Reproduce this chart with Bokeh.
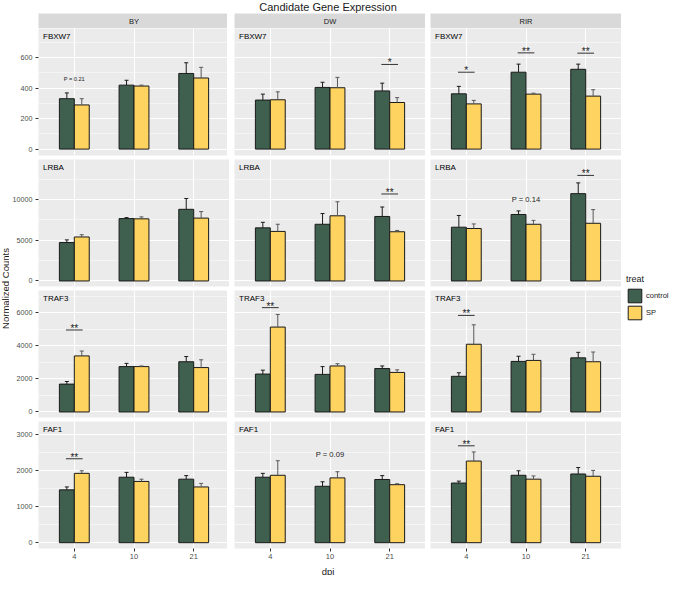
from math import pi
from bokeh.plotting import figure
from bokeh.layouts import row, column
from bokeh.models import ColumnDataSource, Range1d, FixedTicker, Legend, LegendItem
from bokeh.transform import dodge
from bokeh.core.properties import value
from bokeh.embed import file_html
from bokeh.resources import INLINE

# ---------------- data ----------------
dpi = ["4", "10", "21"]
groups = ["BY", "DW", "RIR"]
genes = ["FBXW7", "LRBA", "TRAF3", "FAF1"]
treat = ["control", "SP"]

# order of every series: BY(4,10,21), DW(4,10,21), RIR(4,10,21)
FBXW7_control = [331, 420, 497, 322, 405, 382, 363, 505, 524]
FBXW7_control_se = [38, 32, 70, 39, 34, 51, 49, 53, 34]
FBXW7_SP = [290, 414, 467, 324, 403, 306, 297, 361, 348]
FBXW7_SP_se = [41, 6, 70, 52, 68, 32, 23, 6, 42]

LRBA_control = [4712, 7650, 8789, 6515, 6954, 7913, 6594, 8153, 10711]
LRBA_control_se = [324, 120, 1319, 679, 1319, 1159, 1439, 440, 1319]
LRBA_SP = [5395, 7620, 7710, 6075, 7993, 6035, 6435, 6954, 7074]
LRBA_SP_se = [276, 240, 803, 879, 1719, 160, 559, 480, 1679]

TRAF3_control = [1686, 2745, 3039, 2294, 2274, 2627, 2157, 3059, 3274]
TRAF3_control_se = [157, 196, 314, 235, 471, 157, 215, 313, 334]
TRAF3_SP = [3392, 2745, 2686, 5137, 2784, 2392, 4098, 3118, 3039]
TRAF3_SP_se = [294, 39, 471, 765, 137, 157, 1176, 372, 588]

FAF1_control = [1469, 1820, 1766, 1820, 1568, 1757, 1658, 1874, 1910]
FAF1_control_se = [81, 135, 99, 108, 126, 108, 54, 126, 180]
FAF1_SP = [1928, 1703, 1550, 1874, 1802, 1613, 2270, 1766, 1847]
FAF1_SP_se = [72, 63, 99, 405, 171, 27, 253, 90, 162]

# significance marks
sig_gene = ["FBXW7", "FBXW7", "FBXW7", "FBXW7", "LRBA", "LRBA", "TRAF3", "TRAF3", "TRAF3", "FAF1", "FAF1"]
sig_group = ["DW", "RIR", "RIR", "RIR", "DW", "RIR", "BY", "DW", "RIR", "BY", "RIR"]
sig_dpi = ["21", "4", "10", "21", "21", "21", "4", "4", "4", "4", "4"]
sig_label = ["*", "*", "**", "**", "**", "**", "**", "**", "**", "**", "**"]
sig_y = [556, 505, 632, 630, 10671, 12949, 4961, 6313, 5843, 2334, 2694]

# p-value notes
pval_gene = ["FBXW7", "LRBA", "FAF1"]
pval_group = ["BY", "RIR", "DW"]
pval_dpi = ["4", "10", "10"]
pval_label = ["P = 0.21", "P = 0.14", "P = 0.09"]
pval_y = [458, 10031, 2451]

# y scales per row
y_lo = [-42, -680, -335, -162]
y_hi = [792, 14900, 7350, 3370]
y_ticks = [[0, 200, 400, 600], [0, 5000, 10000], [0, 2000, 4000, 6000], [0, 1000, 2000, 3000]]
y_minor = [[100, 300, 500, 700], [2500, 7500, 12500], [1000, 3000, 5000, 7000], [500, 1500, 2500]]

series = {
    "FBXW7": (FBXW7_control, FBXW7_control_se, FBXW7_SP, FBXW7_SP_se),
    "LRBA": (LRBA_control, LRBA_control_se, LRBA_SP, LRBA_SP_se),
    "TRAF3": (TRAF3_control, TRAF3_control_se, TRAF3_SP, TRAF3_SP_se),
    "FAF1": (FAF1_control, FAF1_control_se, FAF1_SP, FAF1_SP_se),
}

# ---------------- style / layout ----------------
FONT = "Liberation Sans"
CTRL = "#3F5F4F"
SPC = "#FFD35F"
PANEL_BG = "#EBEBEB"
STRIP_BG = "#D9D9D9"
PW, PH = 191, 127
GAP = 4
HGAP = 5
YAX = 27
STRIP_H = 15
TITLE_H = 13
XAX_H = 16
XTITLE_H = 11
YTITLE_W = 9
LEG_W = 50
COL_H = STRIP_H + len(genes) * PH + (len(genes) - 1) * GAP + XAX_H
TOTAL_W = YTITLE_W + YAX + 3 * PW + 2 * HGAP + LEG_W
PANEL_CX = YTITLE_W + YAX + (3 * PW + 2 * HGAP) / 2

xi = [dpi.index(d) + 1 for d in dpi]


def bare(w, h, **kw):
    p = figure(frame_width=w, frame_height=h, tools="", toolbar_location=None,
               output_backend="svg", min_border=0, x_axis_location=None,
               y_axis_location=None, outline_line_color=None,
               border_fill_color="white", **kw)
    p.grid.visible = False
    return p


def text_fig(w, h, x, y, txt, size, angle=0.0):
    p = bare(w, h, x_range=Range1d(0, w), y_range=Range1d(0, h),
             background_fill_color="white")
    p.text(x=[x], y=[y], text=[txt], angle=angle, text_align="center",
           text_baseline="middle", text_font_size=size, text_color="#1A1A1A",
           text_font=value(FONT))
    return p


def strip(ci):
    p = figure(frame_width=PW, frame_height=STRIP_H, tools="", toolbar_location=None,
               output_backend="svg", min_border=0,
               min_border_left=YAX if ci == 0 else HGAP,
               x_axis_location=None, y_axis_location=None, outline_line_color=None,
               x_range=Range1d(0, 1), y_range=Range1d(0, 1),
               background_fill_color=STRIP_BG, border_fill_color="white")
    p.grid.visible = False
    p.text(x=[0.5], y=[0.5], text=[groups[ci]], text_align="center",
           text_baseline="middle", text_font_size="7.5px", text_color="#1A1A1A",
           text_font=value(FONT))
    return p


def style_axis(ax):
    ax.axis_line_color = None
    ax.major_tick_line_color = "#333333"
    ax.major_tick_out = 3
    ax.major_tick_in = 0
    ax.minor_tick_line_color = None
    ax.major_label_text_font_size = "7.2px"
    ax.major_label_text_color = "#4D4D4D"
    ax.major_label_text_font = FONT
    ax.major_label_standoff = 2


def panel(gi, ci):
    gene, group = genes[gi], groups[ci]
    first_col = ci == 0
    last_row = gi == len(genes) - 1
    p = figure(frame_width=PW, frame_height=PH, tools="", toolbar_location=None,
               output_backend="svg",
               x_range=Range1d(0.4, 3.6), y_range=Range1d(y_lo[gi], y_hi[gi]),
               x_axis_location="below" if last_row else None,
               y_axis_location="left" if first_col else None,
               min_border=0, min_border_left=YAX if first_col else HGAP,
               min_border_bottom=XAX_H if last_row else GAP,
               background_fill_color=PANEL_BG, border_fill_color="white",
               outline_line_color=None)
    yt = FixedTicker(ticks=y_ticks[gi], minor_ticks=y_minor[gi])
    xt = FixedTicker(ticks=xi)
    p.xgrid.ticker = xt
    p.ygrid.ticker = yt
    p.grid.grid_line_color = "white"
    p.grid.grid_line_width = 1.1
    p.ygrid.minor_grid_line_color = "white"
    p.ygrid.minor_grid_line_width = 0.5
    if first_col:
        ax = p.yaxis[0]
        ax.ticker = yt
        style_axis(ax)
    if last_row:
        ax = p.xaxis[0]
        ax.ticker = xt
        ax.major_label_overrides = {i: d for i, d in zip(xi, dpi)}
        style_axis(ax)
        ax.major_label_text_font_size = "7.5px"

    ctrl, ctrl_se, sp, sp_se = series[gene]
    sl = slice(ci * 3, ci * 3 + 3)
    c, cs, s, ss = ctrl[sl], ctrl_se[sl], sp[sl], sp_se[sl]
    src = ColumnDataSource(dict(
        x=xi, ctrl=c, ctrl_up=[m + e for m, e in zip(c, cs)],
        sp=s, sp_up=[m + e for m, e in zip(s, ss)]))
    for off, col, fill, ecol in ((-0.125, "ctrl", CTRL, "#1A1A1A"),
                                 (0.125, "sp", SPC, "#595959")):
        xx = dodge("x", off)
        p.vbar(x=xx, top=col, bottom=0, width=0.25, fill_color=fill,
               line_color="#1A1A1A", line_width=1, source=src)
        p.segment(x0=xx, y0=col, x1=xx, y1=col + "_up", line_color=ecol,
                  line_width=1, source=src)
        p.scatter(x=xx, y=col + "_up", marker="dash", size=4, line_color=ecol,
                  line_width=1, source=src)

    idx = [k for k in range(len(sig_gene)) if sig_gene[k] == gene and sig_group[k] == group]
    if idx:
        ss_ = ColumnDataSource(dict(x=[dpi.index(sig_dpi[k]) + 1 for k in idx],
                                    y=[sig_y[k] for k in idx],
                                    t=[sig_label[k] for k in idx]))
        p.segment(x0=dodge("x", -0.14), x1=dodge("x", 0.14), y0="y", y1="y",
                  line_color="#333333", line_width=1, source=ss_)
        p.text(x="x", y="y", text="t", text_align="center", text_baseline="alphabetic",
               y_offset=-1.5, text_font_size="10px", text_color="#1A1A1A",
               text_font=value(FONT), source=ss_)

    idx = [k for k in range(len(pval_gene)) if pval_gene[k] == gene and pval_group[k] == group]
    for k in idx:
        size = "5.6px" if (gene, group) == ("FBXW7", "BY") else "7.6px"
        ps = ColumnDataSource(dict(x=[dpi.index(pval_dpi[k]) + 1], y=[pval_y[k]],
                                   t=[pval_label[k]]))
        p.text(x="x", y="y", text="t", text_align="center", text_baseline="middle",
               text_font_size=size, text_color="#1A1A1A", text_font=value(FONT), source=ps)

    # facet label (gene) in the panel's top-left corner
    p.text(x=[0.4], y=[y_hi[gi]], text=[gene], x_offset=4.5, y_offset=3.5,
           text_align="left", text_baseline="top", text_font_size="8px",
           text_color="#000000", text_font=value(FONT))
    return p


title_fig = text_fig(TOTAL_W, TITLE_H, PANEL_CX, TITLE_H / 2 + 0.5,
                     "Candidate Gene Expression", "11px")
ytitle_fig = text_fig(YTITLE_W, COL_H, YTITLE_W / 2,
                      COL_H - (STRIP_H + 2 * PH + GAP + GAP / 2),
                      "Normalized Counts", "9.5px", angle=pi / 2)
xtitle_fig = text_fig(TOTAL_W, XTITLE_H, PANEL_CX, XTITLE_H / 2, "dpi", "9.5px")

# legend: its keys come from two (off-screen) bar renderers
leg_fig = bare(LEG_W, COL_H, x_range=Range1d(0, 1), y_range=Range1d(0, 1),
               background_fill_color="white")
r1 = leg_fig.vbar(x=[5], top=[1], width=0.5, fill_color=CTRL, line_color="#1A1A1A")
r2 = leg_fig.vbar(x=[5], top=[1], width=0.5, fill_color=SPC, line_color="#1A1A1A")
legend = Legend(items=[LegendItem(label=treat[0], renderers=[r1]),
                       LegendItem(label=treat[1], renderers=[r2])],
                title="treat", location=(5, 243), padding=0, margin=0, spacing=0,
                glyph_width=17, glyph_height=17, label_height=17, label_standoff=3,
                title_standoff=3, border_line_color=None, background_fill_alpha=0,
                title_text_font_size="9px", title_text_font=FONT,
                title_text_font_style="normal", title_text_color="#1A1A1A",
                label_text_font_size="7.5px", label_text_font=FONT,
                label_text_color="#1A1A1A")
leg_fig.add_layout(legend)

cols = [column([strip(ci)] + [panel(gi, ci) for gi in range(len(genes))])
        for ci in range(len(groups))]
body = row([ytitle_fig] + cols + [leg_fig])
layout = column(title_fig, body, xtitle_fig)

open("out.html", "w").write(file_html(layout, INLINE))
